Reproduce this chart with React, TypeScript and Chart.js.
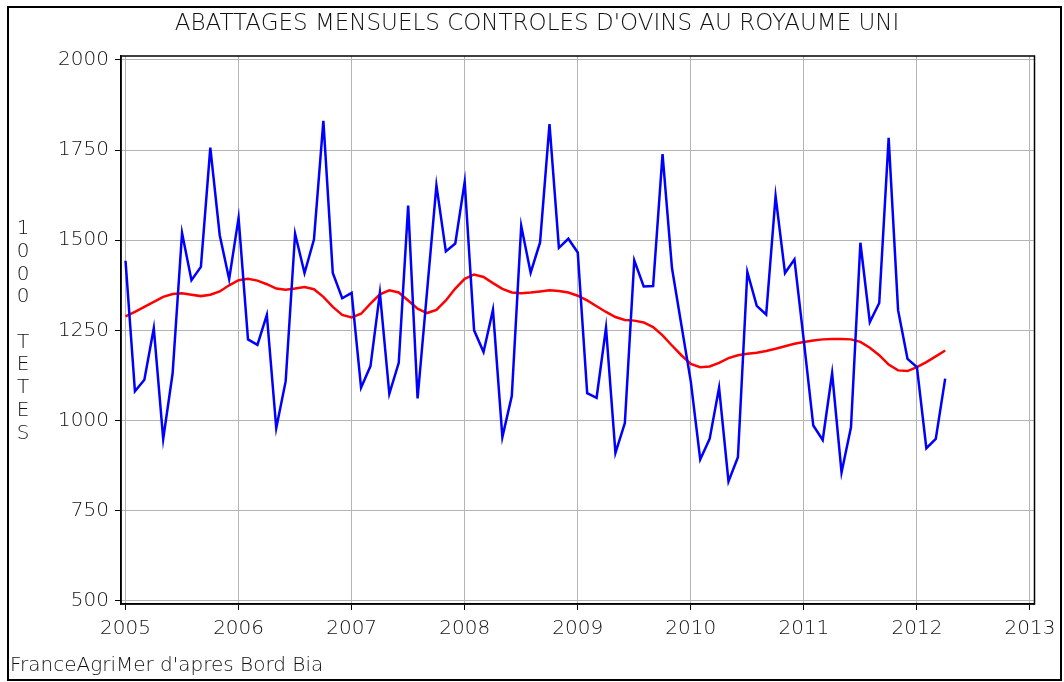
import React, { useEffect, useRef } from "react";
import { Chart, registerables } from "chart.js";

Chart.register(...registerables);

const START_YEAR = 2005;
const TITLE = "ABATTAGES MENSUELS CONTROLES D'OVINS AU ROYAUME UNI";
const SOURCE = "FranceAgriMer d'apres Bord Bia";
const Y_TITLE_CHARS = ["1", "0", "0", "0", "", "T", "E", "T", "E", "S"];
const Y_TICKS = [500, 750, 1000, 1250, 1500, 1750, 2000];
const X_TICKS = [2005, 2006, 2007, 2008, 2009, 2010, 2011, 2012, 2013];

// Monthly slaughter, Jan 2005 .. Apr 2012 (1000 head)
const monthly = [
  1443, 1081, 1113, 1256, 949, 1131, 1520, 1389, 1426, 1757, 1514, 1392,
  1562, 1225, 1210, 1293, 979, 1109, 1518, 1409, 1502, 1831, 1409, 1339,
  1354, 1091, 1151, 1354, 1074, 1160, 1596, 1061, 1357, 1652, 1469, 1491,
  1662, 1250, 1190, 1307, 954, 1068, 1540, 1410, 1494, 1822, 1479, 1504,
  1466, 1076, 1063, 1257, 910, 993, 1444, 1372, 1373, 1739, 1423, 1265,
  1108, 892, 949, 1091, 831, 898, 1412, 1318, 1294, 1622, 1409, 1447,
  1220, 986, 946, 1131, 856, 981, 1493, 1273, 1326, 1784, 1306, 1171,
  1148, 923, 949, 1116,
];

// Smoothed trend
const trend = [
  1289, 1301, 1315, 1329, 1343, 1351, 1353, 1349, 1345, 1349, 1358, 1375,
  1389, 1393, 1388, 1378, 1366, 1363, 1366, 1370, 1364, 1343, 1315, 1293,
  1286, 1296, 1324, 1350, 1361, 1355, 1333, 1310, 1298, 1307, 1333, 1366,
  1393, 1405, 1398, 1381, 1365, 1355, 1353, 1355, 1358, 1361, 1359, 1355,
  1346, 1333, 1317, 1301, 1287, 1279, 1277, 1272, 1259, 1236, 1208, 1181,
  1157, 1148, 1150, 1160, 1173, 1181, 1185, 1188, 1193, 1199, 1206, 1213,
  1218, 1222, 1225, 1226, 1226, 1225, 1218, 1202, 1181, 1155, 1139, 1137,
  1148, 1162, 1178, 1194,
];

const FONT_FAMILY = '"DejaVu Sans", "Liberation Sans", sans-serif';
const TEXT_COLOR = "#111";

const decorPlugin = {
  id: "decor",
  beforeDatasetsDraw(chart: any) {
    const { ctx, chartArea } = chart;
    ctx.save();
    ctx.strokeStyle = "#000";
    ctx.lineWidth = 1.5;
    ctx.strokeRect(chartArea.left, chartArea.top, chartArea.right - chartArea.left, chartArea.bottom - chartArea.top);
    ctx.restore();
  },
  afterDraw(chart: any) {
    const { ctx } = chart;
    ctx.save();
    // outer frame
    ctx.strokeStyle = "#000";
    ctx.lineWidth = 2;
    ctx.strokeRect(8, 7, 1053, 673);
    // title
    ctx.fillStyle = TEXT_COLOR;
    ctx.font = `200 23px ${FONT_FAMILY}`;
    ctx.textAlign = "center";
    ctx.textBaseline = "middle";
    ctx.fillText(TITLE, 537, 24);
    // y title, stacked characters
    ctx.font = `200 20px ${FONT_FAMILY}`;
    Y_TITLE_CHARS.forEach((c, k) => {
      if (c) ctx.fillText(c, 23, 229 + k * 22.7);
    });
    // source
    ctx.textAlign = "left";
    ctx.fillText(SOURCE, 10, 666);
    ctx.restore();
  },
};

export default function App() {
  const ref = useRef<HTMLCanvasElement | null>(null);
  useEffect(() => {
    if (!ref.current) return;
    const monthlyPts = monthly.map((v, i) => ({ x: START_YEAR + i / 12, y: v }));
    const trendPts = trend.map((v, i) => ({ x: START_YEAR + i / 12, y: v }));
    const tickFont = { family: FONT_FAMILY, size: 20, weight: "200" as any };
    const chart = new Chart(ref.current, {
      type: "line",
      data: {
        datasets: [
          {
            label: "Mensuel",
            data: monthlyPts,
            borderColor: "#0000ff",
            borderWidth: 2.5,
            pointRadius: 0,
            tension: 0,
            fill: false,
          },
          {
            label: "Tendance",
            data: trendPts,
            borderColor: "#ff0000",
            borderWidth: 2.5,
            pointRadius: 0,
            tension: 0,
            fill: false,
          },
        ],
      },
      options: {
        animation: false,
        responsive: false,
        layout: { padding: { left: 0, top: 56, right: 29.5, bottom: 0 } },
        plugins: {
          legend: { display: false },
          tooltip: { enabled: false },
          title: { display: false },
        },
        scales: {
          x: {
            type: "linear",
            min: 2004.96,
            max: 2013.04,
            afterBuildTicks: (s: any) => {
              s.ticks = X_TICKS.map((v) => ({ value: v }));
            },
            afterFit: (s: any) => {
              s.height = 78;
            },
            ticks: {
              font: tickFont,
              color: TEXT_COLOR,
              padding: 7,
              maxRotation: 0,
              callback: (v: any) => String(v),
            },
            grid: {
              color: "#b4b4b4",
              lineWidth: 1,
              tickColor: "#000",
              tickLength: 6,
            },
            border: { display: true, color: "#000", width: 1.5 },
          },
          y: {
            type: "linear",
            min: 491,
            max: 2011,
            afterBuildTicks: (s: any) => {
              s.ticks = Y_TICKS.map((v) => ({ value: v }));
            },
            afterFit: (s: any) => {
              s.width = 121;
            },
            ticks: {
              font: tickFont,
              color: TEXT_COLOR,
              padding: 6,
              callback: (v: any) => String(v),
            },
            grid: {
              color: "#b4b4b4",
              lineWidth: 1,
              tickColor: "#000",
              tickLength: 6,
            },
            border: { display: true, color: "#000", width: 1.5 },
          },
        },
      },
      plugins: [decorPlugin],
    });
    return () => chart.destroy();
  }, []);
  return (
    <div style={{ position: "fixed", left: 0, top: 0, width: 1064, height: 682, background: "#fff" }}>
      <canvas ref={ref} width={1064} height={682} style={{ display: "block" }} />
    </div>
  );
}
